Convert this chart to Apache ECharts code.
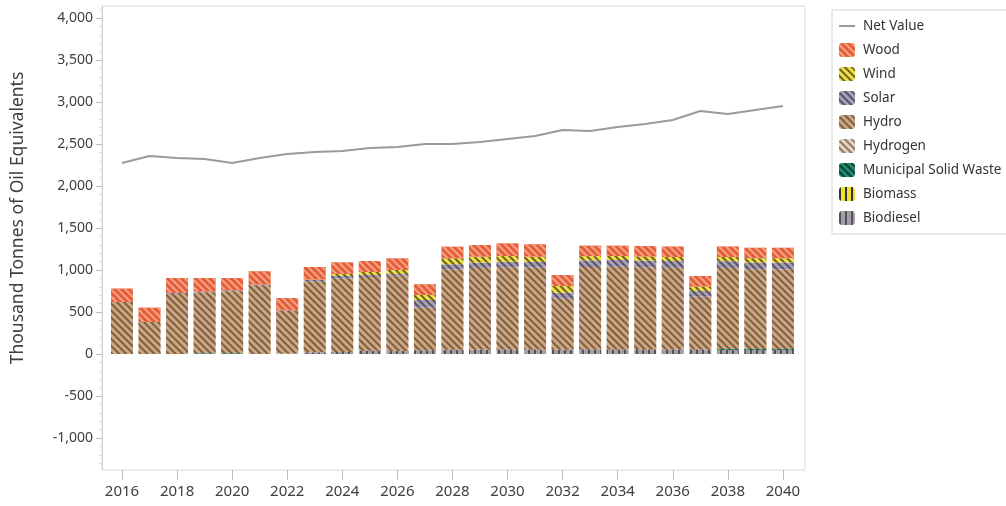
<!DOCTYPE html>
<html><head><meta charset="utf-8">
<script src="https://cdn.jsdelivr.net/npm/echarts@6/dist/echarts.min.js"></script>
<style>html,body{margin:0;padding:0;background:#fff}#c{width:1006px;height:506px}</style>
</head><body><div id="c"></div>
<script>
const years = ['2016','2017','2018','2019','2020','2021','2022','2023','2024','2025','2026','2027','2028','2029','2030','2031','2032','2033','2034','2035','2036','2037','2038','2039','2040'];
const netValue = [2274,2357,2333,2321,2274,2333,2381,2405,2417,2452,2464,2500,2500,2524,2560,2595,2667,2655,2702,2738,2786,2893,2857,2905,2952];
const wood = [160,171,179,160,147,159,147,150,139,131,139,127,139,139,151,147,131,125,123,125,125,127,125,125,125];
const wind = [0,0,0,0,0,0,0,5,24,36,48,60,70,71,68,63,80,50,48,48,48,51,50,50,50];
const solar = [0,0,10,10,10,8,5,15,32,24,20,91,60,62,64,66,71,80,80,80,80,68,80,80,80];
const hydro = [619,381,716,727,740,818,510,846,872,876,897,507,959,976,979,975,608,980,984,978,972,628,965,950,950];
const hydrogen = [0,0,0,0,0,0,0,0,0,0,0,0,0,0,0,0,0,0,0,0,0,0,0,0,0];
const msw = [0,0,0,8,8,0,0,0,0,0,0,0,0,0,0,0,0,0,0,0,0,0,10,10,10];
const biomass = [0,0,0,0,0,0,0,0,0,0,0,0,0,0,0,0,0,0,0,0,0,0,0,0,0];
const biodiesel = [0,0,0,0,0,0,5,20,25,40,35,45,50,50,55,55,50,55,55,55,55,55,50,50,50];
const yTicks = [-1000,-500,0,500,1000,1500,2000,2500,3000,3500,4000];

const FONT = 'Noto Sans';
const Y_MIN = -1381, Y_MAX = 4143;
const minorTicks = [];
for (let v = -1300; v <= 4100; v += 100) { if (v % 500 !== 0) minorTicks.push(v); }

function diag(c){return {symbol:'rect',symbolSize:1,dashArrayX:[1,0],dashArrayY:[2,3],rotation:Math.PI/4,color:c};}
function vert(c){return {symbol:'rect',symbolSize:1,dashArrayX:[2,4],dashArrayY:[1,0],rotation:0,color:c};}

function barSeries(name, arr, color, decal){
  return {name, type:'bar', stack:'total', barWidth:22, data:arr, xAxisIndex:1, yAxisIndex:2,
    itemStyle:{color, decal}, emphasis:{disabled:true}};
}

const chart = echarts.init(document.getElementById('c'), null, {renderer:'canvas'});
chart.setOption({
  animation:false,
  textStyle:{fontFamily:FONT},
  grid:[
    {left:102, top:6, right:201, bottom:36, show:true, borderColor:'#d9d9d9', borderWidth:1},
    {left:108.2, top:6, right:209.3, bottom:36}
  ],
  xAxis:[
    {gridIndex:0, type:'value', min:0, max:1, show:false},
    {gridIndex:1, type:'category', data:years, boundaryGap:true, position:'bottom',
     axisLine:{show:false, onZero:false},
     axisTick:{show:true, alignWithLabel:true, interval:1, length:10, lineStyle:{color:'#bbb'}},
     axisLabel:{interval:1, fontSize:15, color:'#404040', margin:14, fontFamily:FONT},
     splitLine:{show:false}}
  ],
  yAxis:[
    {gridIndex:0, type:'value', min:Y_MIN, max:Y_MAX,
     axisLine:{show:true, lineStyle:{color:'#d0d0d0'}},
     axisTick:{show:true, customValues:yTicks, length:6, lineStyle:{color:'#bbb'}},
     axisLabel:{customValues:yTicks, formatter:v=>v.toLocaleString('en-US'), fontSize:14, color:'#404040', margin:9, fontFamily:FONT},
     splitLine:{show:false}},
    {gridIndex:0, type:'value', min:Y_MIN, max:Y_MAX, position:'left',
     axisLine:{show:false},
     axisTick:{show:true, customValues:minorTicks, length:3, lineStyle:{color:'#ddd'}},
     axisLabel:{show:false}, splitLine:{show:false}},
    {gridIndex:1, type:'value', min:Y_MIN, max:Y_MAX, show:false, splitLine:{show:false}}
  ],
  legend:{orient:'vertical', left:832, top:10, padding:[9,8,9,6], itemWidth:16, itemHeight:14, itemGap:10,
    borderColor:'#d4d4d4', borderWidth:1, textStyle:{fontSize:13.5, color:'#333', fontFamily:FONT, padding:[0,0,0,3]},
    data:[{name:'Net Value', itemStyle:{opacity:0}},'Wood','Wind','Solar','Hydro','Hydrogen','Municipal Solid Waste','Biomass','Biodiesel']},
  graphic:[{type:'text', x:18, y:218, rotation:Math.PI/2,
    style:{text:'Thousand Tonnes of Oil Equivalents', font:'17.5px "Noto Sans"', fill:'#404040', align:'center', verticalAlign:'middle'}}],
  series:[
    barSeries('Biodiesel', biodiesel, '#a59da5', vert('#55505a')),
    barSeries('Biomass', biomass, '#f2e030', vert('#333')),
    barSeries('Municipal Solid Waste', msw, '#1f8a70', diag('#0d3f33')),
    barSeries('Hydrogen', hydrogen, '#e2d3bd', diag('#8a7a68')),
    barSeries('Hydro', hydro, '#cba682', diag('#7d5e40')),
    barSeries('Solar', solar, '#a79fb3', diag('#5a5068')),
    barSeries('Wind', wind, '#efe043', diag('#6b6222')),
    barSeries('Wood', wood, '#e55d3b', diag('#f5a585')),
    {name:'Net Value', type:'line', data:netValue, xAxisIndex:1, yAxisIndex:2, showSymbol:false, symbol:'none', z:5,
      lineStyle:{color:'#9a9a9a', width:2}, itemStyle:{color:'#9a9a9a'}, emphasis:{disabled:true}}
  ]
});
</script></body></html>
